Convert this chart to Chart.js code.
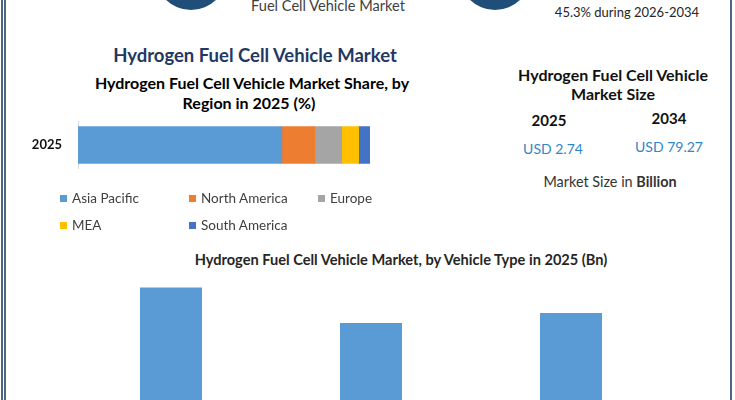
<!DOCTYPE html>
<html>
<head>
<meta charset="utf-8">
<script src="https://cdn.jsdelivr.net/npm/chart.js@4.4.0/dist/chart.umd.min.js"></script>
<style>
  html, body { margin: 0; padding: 0; }
  body { width: 735px; height: 400px; overflow: hidden; position: relative; background: #fff; font-family: Lato, sans-serif; }
  .t { position: absolute; transform: translate(-50%, -50%); white-space: nowrap; line-height: 1; }
  .line { position: absolute; top: 0; height: 400px; width: 2px; background: #4f6382; }
  .circle { position: absolute; width: 72px; height: 72px; border-radius: 50%; background: #1f4e79; }
  .box { position: absolute; }
  .leg { position: absolute; display: flex; align-items: center; font-size: 13.5px; color: #404040; transform: translateY(-50%); white-space: nowrap; }
  .leg i { display: inline-block; width: 7px; height: 7px; margin-right: 5px; }
</style>
</head>
<body>
<div class="line" style="left:1px"></div>
<div class="line" style="left:4px"></div>
<div class="line" style="left:730px"></div>

<div class="circle" style="left:155px; top:-62px"></div>
<div class="circle" style="left:459px; top:-62px"></div>
<div class="t" style="left:328px; top:6px; font-size:14.6px; color:#404040">Fuel Cell Vehicle Market</div>
<div class="t" style="left:627px; top:12px; font-size:13px; color:#262626">45.3% during 2026-2034</div>

<div class="t" style="left:255px; top:55px; font-size:18.5px; font-weight:bold; color:#1f3864">Hydrogen Fuel Cell Vehicle Market</div>
<div class="t" style="left:252px; top:83px; font-size:16px; font-weight:bold; color:#000">Hydrogen Fuel Cell Vehicle Market Share, by</div>
<div class="t" style="left:249px; top:103px; font-size:16px; font-weight:bold; color:#000">Region in 2025 (%)</div>

<div class="box" style="left:20px; top:98px"><canvas id="regionChart" width="350" height="94"></canvas></div>
<div id="legend"></div>

<div class="t" style="left:613px; top:75px; font-size:16px; font-weight:bold; color:#111">Hydrogen Fuel Cell Vehicle</div>
<div class="t" style="left:613px; top:94px; font-size:16px; font-weight:bold; color:#111">Market Size</div>
<div class="t" style="left:549px; top:120px; font-size:15px; font-weight:bold; color:#111" id="yr0"></div>
<div class="t" style="left:669px; top:118px; font-size:15px; font-weight:bold; color:#111" id="yr1"></div>
<div class="t" style="left:553px; top:149px; font-size:14px; color:#2e86c8" id="val0"></div>
<div class="t" style="left:669px; top:147px; font-size:14px; color:#2e86c8" id="val1"></div>
<div class="t" style="left:610px; top:182px; font-size:14.4px; color:#333">Market Size in <b>Billion</b></div>

<div class="t" style="left:401px; top:260px; font-size:14.6px; font-weight:bold; color:#262626">Hydrogen Fuel Cell Vehicle Market, by Vehicle Type in 2025 (Bn)</div>
<div class="box" style="left:71px; top:266px"><canvas id="typeChart" width="600" height="171"></canvas></div>

<script>
// regional share, 2025 (%)
const regionYears = ['2025'];
const regions = ['Asia Pacific', 'North America', 'Europe', 'MEA', 'South America'];
const regionShares = [69.8, 11.3, 9.2, 5.8, 3.9];
const regionColors = ['#5b9bd5', '#ed7d31', '#a5a5a5', '#ffc000', '#4472c4'];

// market size (USD Bn)
const sizeYears = ['2025', '2034'];
const sizeValues = [2.74, 79.27];

// by vehicle type, 2025 (Bn) - labels are below the visible area
const vehicleTypes = ['Passenger Vehicles', 'Light Commercial Vehicles', 'Heavy Commercial Vehicles'];
const vehicleValues = [1.05, 0.80, 0.87];

document.getElementById('yr0').textContent = sizeYears[0];
document.getElementById('yr1').textContent = sizeYears[1];
document.getElementById('val0').textContent = 'USD ' + sizeValues[0];
document.getElementById('val1').textContent = 'USD ' + sizeValues[1];

// legend laid out in 3 columns like the original
const legend = document.getElementById('legend');
const legCols = [60, 189, 318], legRows = [198, 225];
regions.forEach((name, i) => {
    const el = document.createElement('div');
    el.className = 'leg';
    el.style.left = legCols[i % 3] + 'px';
    el.style.top = legRows[Math.floor(i / 3)] + 'px';
    el.innerHTML = '<i style="background:' + regionColors[i] + '"></i>' + name;
    legend.appendChild(el);
});

Chart.defaults.font.family = 'Lato, sans-serif';

new Chart(document.getElementById('regionChart'), {
    type: 'bar',
    data: {
        labels: regionYears,
        datasets: regions.map((name, i) => ({
            label: name,
            data: [regionShares[i]],
            backgroundColor: regionColors[i],
            barThickness: 37
        }))
    },
    options: {
        indexAxis: 'y',
        responsive: false,
        animation: false,
        layout: { padding: 0 },
        plugins: { legend: { display: false }, tooltip: { enabled: false } },
        scales: {
            x: { stacked: true, min: 0, max: 100, display: false },
            y: {
                stacked: true,
                grid: { display: false, drawTicks: false },
                border: { display: true, color: '#d9d9d9', width: 1 },
                ticks: { padding: 16, color: '#111', font: { size: 13, weight: 'bold' } },
                afterFit: s => { s.width = 58; }
            }
        }
    }
});

new Chart(document.getElementById('typeChart'), {
    type: 'bar',
    data: {
        labels: vehicleTypes,
        datasets: [{
            data: vehicleValues,
            backgroundColor: '#5b9bd5',
            barPercentage: 0.31,
            categoryPercentage: 1
        }]
    },
    options: {
        responsive: false,
        animation: false,
        layout: { padding: 0 },
        plugins: { legend: { display: false }, tooltip: { enabled: false } },
        scales: {
            x: { display: false },
            y: { display: false, min: 0, max: 1.2 }
        }
    }
});
</script>
</body>
</html>
